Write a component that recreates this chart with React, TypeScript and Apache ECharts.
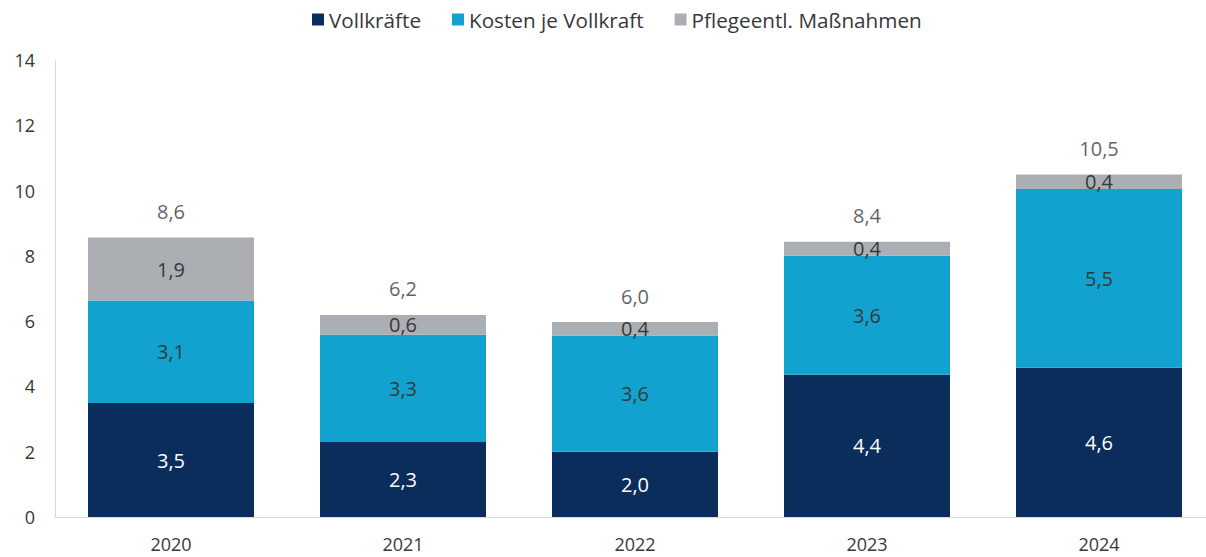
import React, { useEffect, useRef } from "react";
import * as echarts from "echarts";

const years = ["2020", "2021", "2022", "2023", "2024"];
const vollkraefte = [3.49, 2.3, 2.0, 4.36, 4.57];
const kostenJeVollkraft = [3.14, 3.28, 3.56, 3.64, 5.48];
const pflegeentl = [1.93, 0.61, 0.41, 0.43, 0.44];
const yTicks = { min: 0, max: 14, interval: 2 };

const fmt = (v: number) => v.toFixed(1).replace(".", ",");
const FONT = "'Open Sans', 'Noto Sans', sans-serif";
const TXT = "#383838";

export default function App() {
  const ref = useRef<HTMLDivElement>(null);
  useEffect(() => {
    document.body.style.margin = "0";
    document.body.style.overflow = "hidden";
    const chart = echarts.init(ref.current!, null, { renderer: "svg" });
    const totals = years.map((_, i) => vollkraefte[i] + kostenJeVollkraft[i] + pflegeentl[i]);
    const segLabel = (color: string) => ({
      show: true,
      position: "inside",
      color,
      fontSize: 20,
      fontFamily: FONT,
      formatter: (p: any) => fmt(p.value),
    });
    chart.setOption({
      animation: false,
      textStyle: { fontFamily: FONT },
      legend: {
        top: 4,
        left: 307,
        itemWidth: 12,
        itemHeight: 12,
        itemGap: 31,
        icon: "rect",
        textStyle: { color: TXT, fontSize: 20.7, fontFamily: FONT, padding: [0, 0, 0, 0] },
        data: ["Vollkräfte", "Kosten je Vollkraft", "Pflegeentl. Maßnahmen"],
      },
      grid: { left: 55, top: 60, width: 1160, height: 457 },
      xAxis: {
        type: "category",
        data: years,
        axisLine: { lineStyle: { color: "#D9D9D9", width: 1 } },
        axisTick: { show: false },
        axisLabel: { color: TXT, fontSize: 18, fontFamily: FONT, margin: 18 },
      },
      yAxis: {
        type: "value",
        min: yTicks.min,
        max: yTicks.max,
        interval: yTicks.interval,
        axisLine: { show: true, lineStyle: { color: "#D9D9D9", width: 1 } },
        axisTick: { show: false },
        splitLine: { show: false },
        axisLabel: { color: TXT, fontSize: 18, fontFamily: FONT, margin: 20 },
      },
      series: [
        {
          name: "Vollkräfte",
          type: "bar",
          stack: "s",
          barWidth: 166,
          data: vollkraefte,
          itemStyle: { color: "#0B2D5B" },
          label: segLabel("#FFFFFF"),
        },
        {
          name: "Kosten je Vollkraft",
          type: "bar",
          stack: "s",
          data: kostenJeVollkraft,
          itemStyle: { color: "#12A2CF" },
          label: segLabel(TXT),
        },
        {
          name: "Pflegeentl. Maßnahmen",
          type: "bar",
          stack: "s",
          data: pflegeentl,
          itemStyle: { color: "#ABAFB3" },
          label: segLabel(TXT),
        },
        {
          name: "Summe",
          type: "scatter",
          data: totals,
          symbolSize: 0,
          silent: true,
          label: {
            show: true,
            position: "top",
            distance: 16,
            color: TXT,
            fontSize: 20,
            fontFamily: FONT,
            formatter: (p: any) => fmt(p.value),
          },
        },
      ],
    });
    return () => chart.dispose();
  }, []);
  return <div ref={ref} style={{ width: 1216, height: 557 }} />;
}
